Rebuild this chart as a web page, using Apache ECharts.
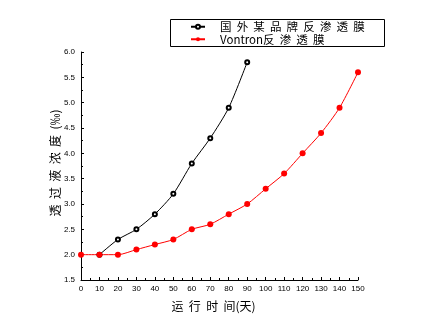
<!DOCTYPE html>
<html><head><meta charset="utf-8">
<script src="https://cdn.jsdelivr.net/npm/echarts@6/dist/echarts.min.js"></script>
<style>html,body{margin:0;padding:0;background:#fff}#c{width:429px;height:322px}</style>
</head><body><div id="c"></div>
<script>
const xTime = [0,10,20,30,40,50,60,70,80,90,100,110,120,130,140,150];
const foreignX = [10,20,30,40,50,60,70,80,90];
const foreignVals = [2.0,2.3,2.5,2.8,3.2,3.8,4.3,4.9,5.8];
const vontronVals = [2.0,2.0,2.0,2.1,2.2,2.3,2.5,2.6,2.8,3.0,3.3,3.6,4.0,4.4,4.9,5.6];
const seriesNames = ['国  外  某  品  牌  反  渗  透  膜','Vontron反  渗  透  膜'];
const xTitle = '运  行  时  间(天)';
const yTitle = '透  过  液  浓  度  (‰)';

const pair = (xs, ys) => ys.map((v,i)=>[xs[i], v]);
const chart = echarts.init(document.getElementById('c'));
const lab = {fontFamily:'Liberation Sans, Arial, sans-serif', fontSize:8, color:'#000'};
const cjk = 'Noto Sans CJK SC';
chart.setOption({
  animation:false,
  grid:{left:81, right:71, top:52, bottom:42},
  legend:{
    orient:'vertical', left:170, top:19, width:214,
    itemWidth:14, itemHeight:5, itemGap:1,
    padding:[2,0,0,20],
    textStyle:{fontFamily:cjk, fontSize:11.5, color:'#000', padding:[0,0,0,10]},
    data:seriesNames
  },
  graphic:[{type:'rect', shape:{x:170.5,y:19.5,width:214,height:27}, style:{fill:'none', stroke:'#000', lineWidth:1}}],
  xAxis:{
    type:'value', min:0, max:150, interval:10,
    name:xTitle, nameLocation:'middle', nameGap:20, nameMoveOverlap:false,
    nameTextStyle:{fontFamily:cjk, fontSize:12, color:'#000', padding:[0,12,0,0]},
    axisLine:{lineStyle:{color:'#000', width:1}},
    axisTick:{inside:true, length:3, lineStyle:{color:'#000'}},
    minorTick:{show:true, splitNumber:2, length:2, lineStyle:{color:'#000'}},
    axisLabel:Object.assign({margin:5}, lab),
    splitLine:{show:false}
  },
  yAxis:{
    type:'value', min:1.5, max:6.0, interval:0.5,
    name:yTitle, nameLocation:'middle', nameGap:20, nameRotate:90, nameMoveOverlap:false,
    nameTextStyle:{fontFamily:cjk, fontSize:12, color:'#000', padding:[0,0,0,6]},
    axisLine:{show:true, lineStyle:{color:'#000', width:1}},
    axisTick:{show:true, inside:true, length:3, lineStyle:{color:'#000'}},
    minorTick:{show:true, splitNumber:2, length:2, lineStyle:{color:'#000'}},
    axisLabel:Object.assign({margin:6, formatter:v=>v.toFixed(1)}, lab),
    splitLine:{show:false}
  },
  series:[
    {name:seriesNames[0], type:'line', data:pair(foreignX, foreignVals), smooth:0.25,
     symbol:'emptyCircle', symbolSize:4,
     lineStyle:{color:'#000', width:1}, itemStyle:{color:'#000', borderColor:'#000', borderWidth:1}},
    {name:seriesNames[1], type:'line', data:pair(xTime, vontronVals), smooth:0.25,
     symbol:'circle', symbolSize:6, z:3,
     lineStyle:{color:'#ff0000', width:1}, itemStyle:{color:'#ff0000'}}
  ]
});
</script></body></html>
